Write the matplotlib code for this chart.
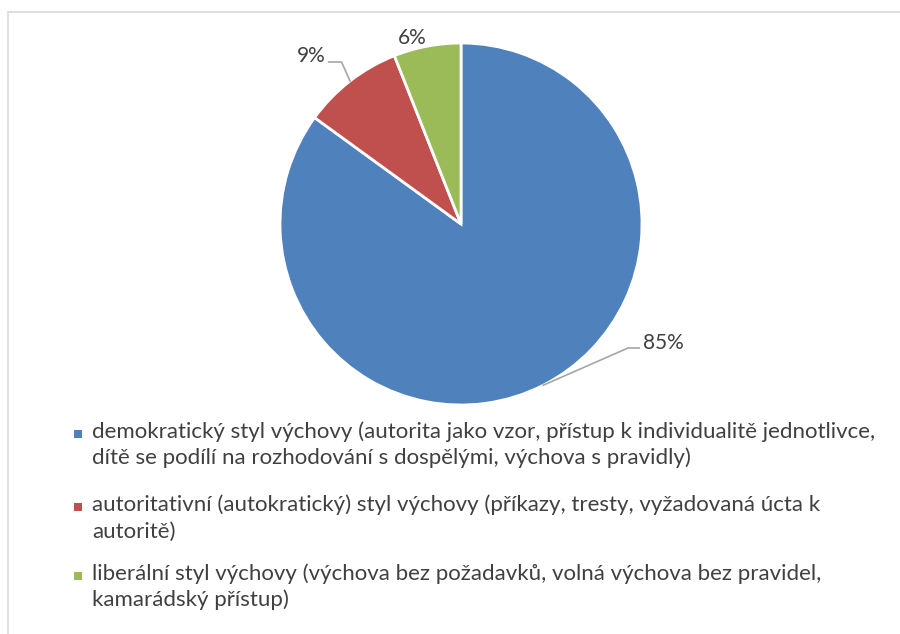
import matplotlib.pyplot as plt
from matplotlib.patches import Rectangle
import numpy as np

plt.rcParams['font.family'] = ['Lato', 'DejaVu Sans']

# data
labels = [
    'demokratický styl výchovy (autorita jako vzor, přístup k individualitě jednotlivce,\n'
    'dítě se podílí na rozhodování s dospělými, výchova s pravidly)',
    'autoritativní (autokratický) styl výchovy (příkazy, tresty, vyžadovaná úcta k\n'
    'autoritě)',
    'liberální styl výchovy (výchova bez požadavků, volná výchova bez pravidel,\n'
    'kamarádský přístup)',
]
shares = [85, 9, 6]
pct_labels = ['85%', '9%', '6%']
colors = ['#4F81BD', '#C0504D', '#9BBB59']
text_color = '#404040'

W, H = 900, 634
fig = plt.figure(figsize=(9, 6.34), dpi=100)

# chart border (runs off the right/bottom of the picture)
fig.patches.append(Rectangle((8 / W, -0.1), 1.2, 1 - 12 / H + 0.1,
                             transform=fig.transFigure, fill=False,
                             edgecolor='#D9D9D9', linewidth=1.2))

# pie axes: center (461, 224), radius 181 px
ax = fig.add_axes([280 / W, 1 - 405 / H, 362 / W, 362 / H])
wedges, _ = ax.pie(shares, colors=colors, startangle=90, counterclock=False,
                   radius=1, wedgeprops=dict(edgecolor='white', linewidth=2))
ax.set_xlim(-1, 1)
ax.set_ylim(-1, 1)
ax.set_aspect('equal')
ax.axis('off')

# data labels with leader lines
label_pos = [(1.12, -0.66), (-0.83, 0.93), (-0.27, 1.03)]
elbows = [[(0.923, -0.685), (0.985, -0.685)],
          [(-0.66, 0.895), (-0.73, 0.895)],
          None]
for w, txt, pos, elb in zip(wedges, pct_labels, label_pos, elbows):
    mid = np.deg2rad((w.theta1 + w.theta2) / 2)
    ex, ey = np.cos(mid), np.sin(mid)
    if elb is not None:
        xs = [ex] + [p[0] for p in elb]
        ys = [ey] + [p[1] for p in elb]
        ax.plot(xs, ys, color='#A6A6A6', linewidth=1.2, clip_on=False)
    ax.text(pos[0], pos[1], txt, ha='center', va='center', fontsize=15,
            color=text_color, clip_on=False)

# legend
baselines = [438, 511, 580]
line_step = 26.5
for lab, col, yb in zip(labels, colors, baselines):
    fig.patches.append(Rectangle((74 / W, 1 - 437.5 / H + (438 - yb) / H),
                                 7.5 / W, 7.5 / H, transform=fig.transFigure,
                                 facecolor=col, edgecolor='none'))
    for i, line in enumerate(lab.split('\n')):
        fig.text(92 / W, 1 - (yb + i * line_step) / H, line, fontsize=16,
                 color=text_color, ha='left', va='baseline')

fig.savefig('out.png', dpi=100)
